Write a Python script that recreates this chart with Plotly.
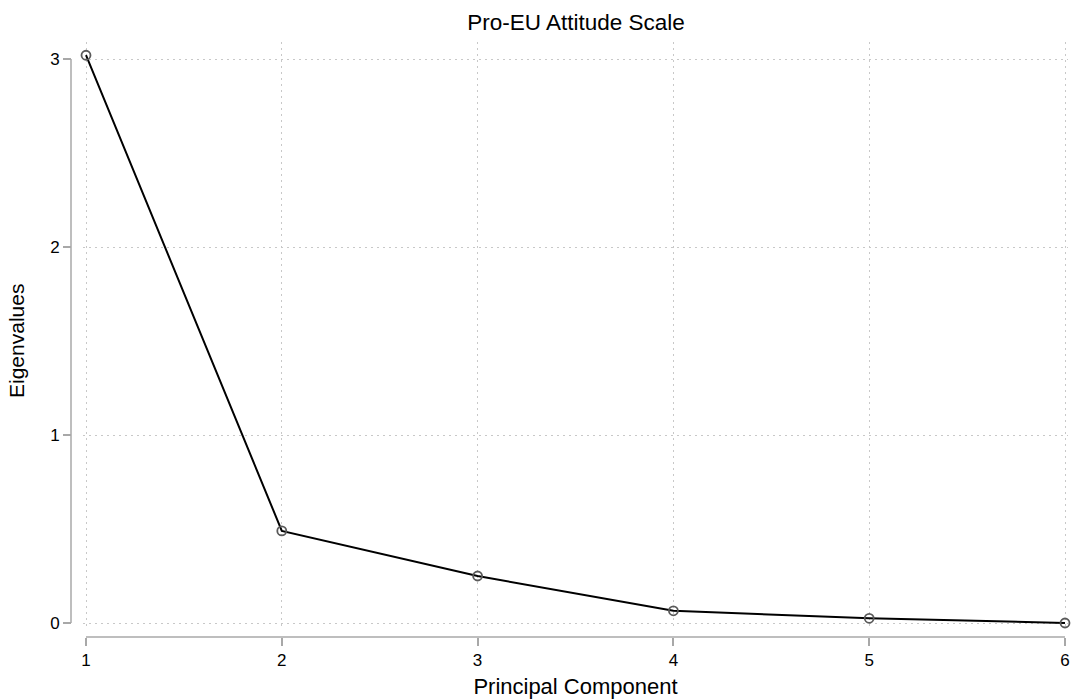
import plotly.graph_objects as go

components = [1, 2, 3, 4, 5, 6]
eigenvalues = [3.02, 0.49, 0.25, 0.065, 0.025, 0.0]
x_ticks = [1, 2, 3, 4, 5, 6]
y_ticks = [0, 1, 2, 3]

W, H = 1076, 699
ml, mr, mt, mb = 60, 8, 42, 50
pw = W - ml - mr
ph = H - mt - mb

plot_left, plot_right = 83, 1068
plot_top, plot_bottom = 42, 626
yaxis_px = 71
xaxis_px = 637

xdom = [(plot_left - ml) / pw, (plot_right - ml) / pw]
ydom = [(H - mb - plot_bottom) / ph, (H - mb - plot_top) / ph]
ypos = (yaxis_px - ml) / pw
xpos = (H - mb - xaxis_px) / ph

# data ranges: 1 at px 86, 6 at px 1065; 0 at px 623, 3 at px 59
xs = (1065 - 86) / 5.0
ys = (623 - 59) / 3.0
xr = [1 - (86 - plot_left) / xs, 6 + (plot_right - 1065) / xs]
yr = [0 - (plot_bottom - 623) / ys, 3 + (59 - plot_top) / ys]

font = "Liberation Sans, Arial, sans-serif"
axis_col = "#a8a8a8"
grid_col = "#c8c8c8"

fig = go.Figure()
fig.add_trace(go.Scatter(
    x=components, y=eigenvalues, mode="lines+markers",
    line=dict(color="black", width=2),
    marker=dict(symbol="circle-open", size=9, color="#5a5a5a", line=dict(width=1.8, color="#5a5a5a")),
    cliponaxis=False, showlegend=False,
))

fig.update_layout(
    width=W, height=H,
    margin=dict(l=ml, r=mr, t=mt, b=mb, autoexpand=False),
    paper_bgcolor="white", plot_bgcolor="white",
    font=dict(family=font, size=17, color="black"),
    title=dict(text="Pro-EU Attitude Scale", x=(576 - ml) / pw, xref="paper", xanchor="center",
               y=1 - 22 / H, yref="container", yanchor="middle", font=dict(size=22.5),
               automargin=False),
    xaxis=dict(domain=xdom, range=xr, anchor="free", position=xpos, automargin=False,
               tickvals=x_ticks, ticks="outside", ticklen=8, tickwidth=1.5, tickcolor=axis_col,
               showline=False, zeroline=False,
               showgrid=True, gridcolor=grid_col, griddash="2px,4px", gridwidth=1,
               tickfont=dict(size=17),
               title=dict(text="Principal Component", font=dict(size=22), standoff=12)),
    yaxis=dict(domain=ydom, range=yr, anchor="free", position=ypos, automargin=False,
               tickvals=y_ticks, ticks="outside", ticklen=8, tickwidth=1.5, tickcolor=axis_col,
               showline=False, zeroline=False,
               showgrid=True, gridcolor=grid_col, griddash="2px,4px", gridwidth=1,
               tickfont=dict(size=17)),
)

# y-axis title centred on the tick range (Stata style)
fig.add_annotation(text="Eigenvalues", textangle=-90, showarrow=False,
                   xref="paper", x=(16 - ml) / pw, xanchor="center",
                   yref="y", y=(y_ticks[0] + y_ticks[-1]) / 2, yanchor="middle",
                   font=dict(size=21))

# axis lines spanning only the tick range (Stata style)
fig.add_shape(type="line", xref="paper", yref="y", x0=ypos, x1=ypos, y0=y_ticks[0], y1=y_ticks[-1],
              line=dict(color=axis_col, width=1.5))
fig.add_shape(type="line", xref="x", yref="paper", x0=x_ticks[0], x1=x_ticks[-1], y0=xpos, y1=xpos,
              line=dict(color=axis_col, width=1.5))

fig.write_html("out.html")
